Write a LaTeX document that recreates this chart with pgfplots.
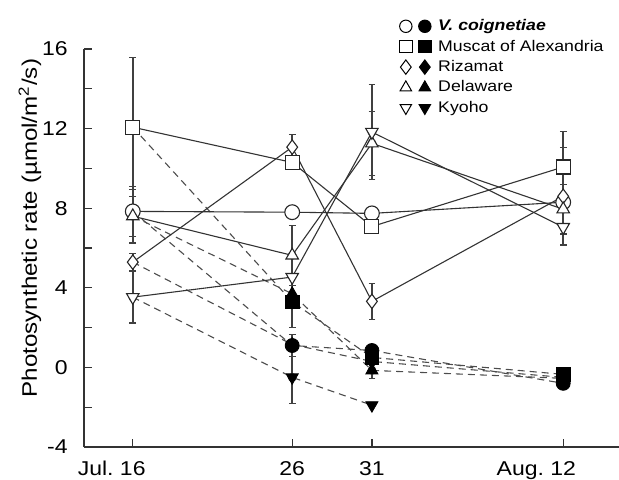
\documentclass[border=0pt]{standalone}
\usepackage{fontspec}
\setmainfont{Liberation Sans}[FakeStretch=1.15]
\usepackage{pgfplots}
\usepackage{pgfplotstable}
\pgfplotsset{compat=1.18}

% open symbols (solid lines)
\pgfplotstableread{
x y
0 7.84
10 7.8
15 7.74
27 8.3
}\VcOpen
\pgfplotstableread{
x y
0 12.07
10 10.3
15 7.08
27 10.07
}\MuOpen
\pgfplotstableread{
x y
0 5.29
10 11.07
15 3.32
27 8.6
}\RiOpen
\pgfplotstableread{
x y
0 7.6
10 5.63
15 11.26
27 7.95
}\DeOpen
\pgfplotstableread{
x y
0 3.53
10 4.54
15 11.83
27 7.05
}\KyOpen
% filled symbols (dashed lines), first row = Jul. 16 start
\pgfplotstableread{
x y
0 7.84
10 1.1
15 0.85
27 -0.8
}\VcFill
\pgfplotstableread{
x y
0 12.07
10 3.3
15 0.5
27 -0.35
}\MuFill
\pgfplotstableread{
x y
0 5.29
10 1.15
15 0.3
27 -0.5
}\RiFill
\pgfplotstableread{
x y
0 7.6
10 3.7
15 -0.15
27 -0.55
}\DeFill
\pgfplotstableread{
x y
0 3.53
10 -0.5
15 -1.9
}\KyFill
% error bars
\pgfplotstableread{
x y e
0 12.07 3.5
0 7.84 1.25
0 7.6 1.35
0 5.29 0.45
0 3.53 1.3
10 11.07 0.65
10 5.63 1.5
15 11.83 2.4
15 11.26 1.6
15 3.32 0.9
27 10.07 1.8
27 8.6 2.45
27 7.95 1.25
10 3.3 1.3
10 1.1 0.55
10 -0.5 1.3
15 -0.15 0.4
}\Errs

\pgfplotsset{
  legpair/.style n args={3}{legend image code/.code={
    \draw[black,line width=0.5pt,mark size=#3] plot[mark=#1,mark options={solid,fill=white,rotate=#2}] coordinates {(3.5pt,0pt)};
    \draw[black,line width=0.5pt,mark size=#3] plot[mark=#1,mark options={solid,fill=black,rotate=#2}] coordinates {(13pt,0pt)};
  }},
  solidln/.style={black!80,line width=0.55pt,mark=none,forget plot},
  dashln/.style={black!70,line width=0.55pt,dash pattern=on 3.5pt off 2.5pt,mark=none,forget plot},
  openmk/.style={only marks,forget plot,mark options={solid,draw=black!85,fill=white,line width=0.55pt,rotate=#1}},
  openmk/.default=0,
  fillmk/.style={only marks,forget plot,mark options={solid,draw=black,fill=black,line width=0.4pt,rotate=#1}},
  fillmk/.default=0,
}

\begin{document}
\begin{tikzpicture}
\useasboundingbox (-42pt,-16pt) rectangle (267.5pt,223.5pt);
\begin{axis}[
  scale only axis, width=267.5pt, height=199pt,
  xmin=-3.06, xmax=30.5, ymin=-4, ymax=16,
  axis lines=left,
  axis line style={-, line width=0.8pt, black!80},
  tick align=inside,
  major tick length=4pt, minor tick length=4pt,
  tick style={black!80, line width=0.6pt},
  xtick={0,10,15,27},
  xticklabels={\llap{Jul.\ }16,26,31,\llap{Aug.\ }12},
  ytick={-4,0,4,8,12,16},
  minor y tick num=1,
  /pgf/number format/assume math mode=true,
  every tick label/.append style={font=\fontsize{10}{11}\selectfont},
  yticklabel style={inner sep=0pt, anchor=east, xshift=-8pt},
  xticklabel style={inner sep=0pt, anchor=north, yshift=-7pt},
  ylabel={Photosynthetic rate (µmol/m\textsuperscript{2}/s)},
  ylabel style={at={(axis description cs:-0.101,0.55)}, anchor=center, font=\fontsize{10.5}{12}\selectfont},
  clip=false,
  legend style={at={(axis description cs:0.578,1.09)}, anchor=north west, draw=none, fill=none,
    font=\fontsize{7.7}{9}\selectfont, row sep=1.5pt, column sep=3pt,
    nodes={inner sep=0.6pt, text height=6pt, text depth=1.5pt}},
  legend cell align=left,
]
% dashed lines (filled series)
\addplot[dashln] table {\VcFill};
\addplot[dashln] table {\MuFill};
\addplot[dashln] table {\RiFill};
\addplot[dashln] table {\DeFill};
\addplot[dashln] table {\KyFill};
% solid lines (open series)
\addplot[solidln] table {\VcOpen};
\addplot[solidln] table {\MuOpen};
\addplot[solidln] table {\RiOpen};
\addplot[solidln] table {\DeOpen};
\addplot[solidln] table {\KyOpen};
% error bars
\addplot[black!75, only marks, mark=none, forget plot,
  error bars/.cd, y dir=both, y explicit,
  error bar style={line width=0.75pt, black!75},
  error mark options={rotate=90, mark size=1.7pt, line width=0.6pt, black!75}]
  table[x=x, y=y, y error=e] {\Errs};
% open markers
\addplot[openmk, mark=*, mark size=3.7pt] table {\VcOpen};
\addplot[openmk, mark=square*, mark size=3.5pt] table {\MuOpen};
\addplot[openmk, mark=diamond*, mark size=3.6pt] table {\RiOpen};
\addplot[openmk, mark=triangle*, mark size=3.6pt] table {\DeOpen};
\addplot[openmk=180, mark=triangle*, mark size=3.6pt] table {\KyOpen};
% filled markers (from Jul. 26 on)
\addplot[fillmk, mark=*, mark size=3.5pt, mark indices={2,3,4}] table {\VcFill};
\addplot[fillmk, mark=square*, mark size=3.4pt, mark indices={2,3,4}] table {\MuFill};
\addplot[fillmk, mark=diamond*, mark size=3.5pt, mark indices={2,3,4}] table {\RiFill};
\addplot[fillmk, mark=triangle*, mark size=3.5pt, mark indices={2,3,4}] table {\DeFill};
\addplot[fillmk=180, mark=triangle*, mark size=3.5pt, mark indices={2,3}] table {\KyFill};
% legend
\addlegendimage{legpair={*}{0}{3.1pt}}
\addlegendentry{\textbf{\textit{V. coignetiae}}}
\addlegendimage{legpair={square*}{0}{3.1pt}}
\addlegendentry{Muscat of Alexandria}
\addlegendimage{legpair={diamond*}{0}{3.6pt}}
\addlegendentry{Rizamat}
\addlegendimage{legpair={triangle*}{0}{3.3pt}}
\addlegendentry{Delaware}
\addlegendimage{legpair={triangle*}{180}{3.3pt}}
\addlegendentry{Kyoho}
\end{axis}
\end{tikzpicture}
\end{document}
